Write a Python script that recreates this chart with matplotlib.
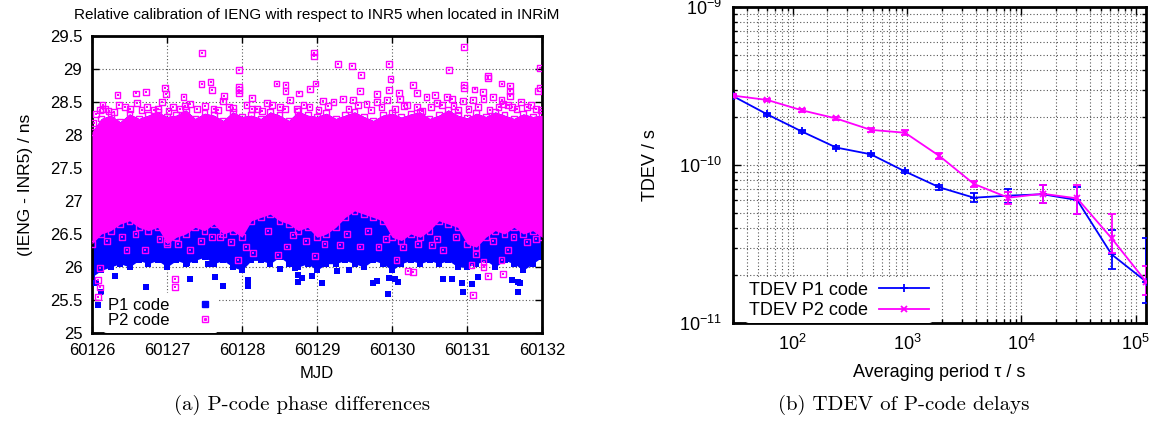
import numpy as np
import matplotlib
matplotlib.use('Agg')
import matplotlib.pyplot as plt
from matplotlib.lines import Line2D
from matplotlib.legend_handler import HandlerTuple
from matplotlib.ticker import LogLocator, FuncFormatter, NullFormatter, MultipleLocator

plt.rcParams['font.family'] = ['Liberation Sans', 'DejaVu Sans']
plt.rcParams['mathtext.fontset'] = 'custom'
plt.rcParams['mathtext.rm'] = 'Liberation Sans'
plt.rcParams['mathtext.it'] = 'Liberation Sans:italic'

# ---- (a) P-code phase differences: dense band edges (read every 0.125 day) ----
band_mjd = [60126.000, 60126.125, 60126.250, 60126.375, 60126.500, 60126.625, 60126.750,
            60126.875, 60127.000, 60127.125, 60127.250, 60127.375, 60127.500, 60127.625,
            60127.750, 60127.875, 60128.000, 60128.125, 60128.250, 60128.375, 60128.500,
            60128.625, 60128.750, 60128.875, 60129.000, 60129.125, 60129.250, 60129.375,
            60129.500, 60129.625, 60129.750, 60129.875, 60130.000, 60130.125, 60130.250,
            60130.375, 60130.500, 60130.625, 60130.750, 60130.875, 60131.000, 60131.125,
            60131.250, 60131.375, 60131.500, 60131.625, 60131.750, 60131.875, 60132.000]
p2_band_top = [28.05, 28.25, 28.30, 28.20, 28.32, 28.25, 28.30, 28.35, 28.28, 28.30,
               28.38, 28.25, 28.33, 28.30, 28.22, 28.35, 28.28, 28.30, 28.25, 28.35,
               28.30, 28.22, 28.36, 28.30, 28.28, 28.33, 28.25, 28.30, 28.35, 28.28,
               28.22, 28.30, 28.33, 28.27, 28.32, 28.35, 28.25, 28.30, 28.38, 28.30,
               28.26, 28.33, 28.28, 28.35, 28.30, 28.25, 28.32, 28.28, 28.30]
p2_band_bottom = [26.35, 26.50, 26.55, 26.65, 26.70, 26.60, 26.55, 26.60, 26.35, 26.45,
                  26.50, 26.60, 26.55, 26.65, 26.50, 26.55, 26.45, 26.70, 26.75, 26.80,
                  26.70, 26.65, 26.55, 26.60, 26.45, 26.50, 26.60, 26.75, 26.85, 26.80,
                  26.75, 26.70, 26.45, 26.40, 26.50, 26.45, 26.55, 26.70, 26.65, 26.60,
                  26.35, 26.30, 26.45, 26.55, 26.50, 26.60, 26.50, 26.55, 26.45]
p1_band_bottom = [25.85, 25.95, 26.00, 26.05, 26.00, 26.10, 26.05, 26.10, 26.00, 26.10,
                  26.05, 26.10, 26.15, 26.05, 26.10, 26.00, 25.95, 26.10, 26.10, 26.05,
                  26.15, 26.05, 26.00, 26.05, 25.95, 26.05, 26.05, 26.10, 26.05, 26.00,
                  26.10, 26.05, 25.95, 26.05, 26.10, 26.05, 26.10, 26.05, 26.10, 26.00,
                  26.00, 26.05, 26.10, 26.00, 26.10, 26.05, 25.95, 26.05, 26.15]

# isolated P1 points below the band
p1_out_mjd = [60126.08, 60126.31, 60126.72, 60127.26, 60127.31, 60127.55, 60127.64,
              60127.74, 60128.08, 60128.08, 60128.51, 60128.75, 60128.71, 60128.74,
              60128.80, 60128.93, 60129.07, 60129.26, 60129.43, 60129.74, 60129.80,
              60129.94, 60129.96, 60130.08, 60130.04, 60130.68, 60130.80, 60130.93,
              60130.95, 60131.07, 60131.15, 60131.60, 60131.68, 60131.71, 60131.68,
              60126.05, 60126.12]
p1_out_val = [25.43, 25.86, 25.69, 26.06, 25.82, 26.04, 25.85, 25.71, 25.80, 25.71,
              25.97, 25.78, 25.98, 25.88, 25.84, 25.86, 25.76, 25.94, 25.95, 25.76,
              25.79, 25.59, 25.84, 25.78, 25.82, 25.82, 25.82, 25.75, 25.62, 25.74,
              25.85, 25.80, 25.78, 25.75, 25.62, 25.75, 25.62]

# isolated P2 points (upper fringe, outliers and squares over the blue)
p2_out_mjd = [60127.47, 60127.96, 60127.96, 60127.96, 60127.96, 60127.46, 60127.58,
              60127.60, 60128.46, 60128.58, 60128.58, 60126.34, 60126.59, 60126.72,
              60126.97, 60126.99, 60127.76, 60128.13, 60127.22, 60126.14, 60126.14,
              60126.02, 60128.96, 60128.96, 60129.28, 60129.47, 60129.96, 60129.59,
              60129.98, 60130.96, 60130.76, 60131.28, 60131.28, 60131.46, 60131.57,
              60131.57, 60131.57, 60130.96, 60130.96, 60128.98, 60128.91, 60130.28,
              60130.33, 60129.57, 60129.80, 60130.09, 60130.57, 60131.10, 60131.21,
              60131.46, 60128.76, 60129.96, 60130.80, 60131.97, 60131.97, 60131.95,
              # fringe 28.3 - 28.6
              60126.11, 60126.22, 60126.36, 60126.51, 60126.60, 60126.73, 60126.82,
              60126.93, 60127.08, 60127.17, 60127.31, 60127.51, 60127.62, 60127.75,
              60127.88, 60128.06, 60128.20, 60128.33, 60128.51, 60128.64, 60128.73,
              60128.82, 60129.08, 60129.22, 60129.35, 60129.48, 60129.66, 60129.80,
              60129.93, 60130.11, 60130.20, 60130.33, 60130.46, 60130.60, 60130.73,
              60130.82, 60130.95, 60131.08, 60131.22, 60131.35, 60131.48, 60131.60,
              60131.72, 60131.85, 60131.92,
              60126.05, 60126.18, 60126.29, 60126.44, 60126.66, 60126.88, 60127.02,
              60127.24, 60127.40, 60127.68, 60127.83, 60128.13, 60128.27, 60128.40,
              60128.57, 60128.90, 60129.02, 60129.15, 60129.42, 60129.55, 60129.72,
              60129.86, 60130.04, 60130.16, 60130.40, 60130.52, 60130.67, 60130.88,
              60131.02, 60131.15, 60131.30, 60131.42, 60131.55, 60131.66, 60131.80,
              60131.98,
              # over the blue / below
              60126.11, 60126.46, 60126.71, 60127.00, 60127.31, 60127.71, 60127.95,
              60128.15, 60128.48, 60128.60, 60128.97, 60129.31, 60129.57, 60129.82,
              60130.06, 60130.53, 60130.68, 60131.06, 60131.22, 60131.22, 60131.46,
              60131.55, 60126.08, 60126.11, 60126.08, 60127.11, 60127.11, 60130.21,
              60130.28, 60131.08, 60131.28, 60131.48,
              60126.20, 60126.40, 60126.58, 60126.90, 60127.15, 60127.45, 60127.60,
              60127.85, 60128.05, 60128.35, 60128.68, 60128.85, 60129.10, 60129.40,
              60129.68, 60129.92, 60130.15, 60130.35, 60130.60, 60130.85, 60131.12,
              60131.35, 60131.62, 60131.80, 60131.92]
p2_out_val = [29.24, 28.99, 28.73, 28.68, 28.63, 28.77, 28.80, 28.68, 28.78, 28.76,
              28.67, 28.60, 28.63, 28.65, 28.71, 28.62, 28.59, 28.56, 28.57, 28.46,
              28.39, 28.18, 29.25, 29.19, 29.08, 29.04, 29.07, 28.91, 28.85, 29.33,
              28.99, 28.90, 28.87, 28.78, 28.75, 28.66, 28.59, 28.76, 28.71, 28.78,
              28.70, 28.76, 28.64, 28.67, 28.62, 28.64, 28.60, 28.69, 28.65, 28.53,
              28.63, 28.68, 28.55, 29.01, 28.71, 28.67,
              28.38, 28.36, 28.45, 28.40, 28.48, 28.42, 28.38, 28.50, 28.42, 28.40,
              28.47, 28.44, 28.40, 28.52, 28.41, 28.45, 28.40, 28.48, 28.42, 28.53,
              28.40, 28.45, 28.52, 28.50, 28.55, 28.53, 28.47, 28.50, 28.53, 28.55,
              28.46, 28.42, 28.57, 28.48, 28.58, 28.44, 28.52, 28.53, 28.55, 28.58,
              28.47, 28.42, 28.50, 28.45, 28.40,
              28.32, 28.40, 28.35, 28.42, 28.38, 28.40, 28.36, 28.44, 28.40, 28.38,
              28.43, 28.40, 28.37, 28.45, 28.40, 28.42, 28.38, 28.44, 28.40, 28.46,
              28.38, 28.42, 28.40, 28.44, 28.37, 28.42, 28.45, 28.38, 28.40, 28.43,
              28.38, 28.42, 28.45, 28.40, 28.43, 28.38,
              25.98, 26.26, 26.26, 26.38, 26.26, 26.46, 26.11, 26.21, 26.18, 26.31,
              26.16, 26.33, 26.31, 26.30, 26.10, 26.33, 26.26, 26.03, 26.08, 26.00,
              26.11, 26.26, 25.54, 25.69, 25.80, 25.82, 25.70, 25.94, 25.93, 25.57,
              25.86, 25.90,
              26.40, 26.45, 26.50, 26.42, 26.35, 26.40, 26.45, 26.38, 26.30, 26.55,
              26.48, 26.40, 26.35, 26.50, 26.55, 26.42, 26.30, 26.35, 26.42, 26.45,
              26.20, 26.40, 26.45, 26.38, 26.42]

# ---- (b) TDEV of P-code delays ----
tau = [30, 60, 120, 240, 480, 960, 1920, 3840, 7680, 15360, 30720, 61440, 122880]
p1_tdev = [2.73e-10, 2.09e-10, 1.63e-10, 1.29e-10, 1.17e-10, 9.1e-11, 7.22e-11,
           6.21e-11, 6.4e-11, 6.53e-11, 6.0e-11, 2.72e-11, 1.83e-11]
p1_low = [2.68e-10, 2.05e-10, 1.60e-10, 1.26e-10, 1.14e-10, 8.85e-11, 6.95e-11,
          5.81e-11, 5.73e-11, 5.73e-11, 4.9e-11, 2.2e-11, 1.34e-11]
p1_high = [2.78e-10, 2.13e-10, 1.66e-10, 1.32e-10, 1.20e-10, 9.35e-11, 7.5e-11,
           6.62e-11, 7.0e-11, 7.5e-11, 7.3e-11, 3.88e-11, 3.45e-11]
p2_tdev = [2.75e-10, 2.58e-10, 2.22e-10, 1.97e-10, 1.67e-10, 1.60e-10, 1.14e-10,
           7.59e-11, 6.21e-11, 6.58e-11, 6.15e-11, 3.44e-11, 1.83e-11]
p2_low = [2.70e-10, 2.53e-10, 2.17e-10, 1.92e-10, 1.62e-10, 1.54e-10, 1.09e-10,
          7.22e-11, 5.68e-11, 5.73e-11, 4.88e-11, 2.76e-11, 1.5e-11]
p2_high = [2.80e-10, 2.63e-10, 2.27e-10, 2.02e-10, 1.72e-10, 1.66e-10, 1.19e-10,
           7.96e-11, 6.7e-11, 7.5e-11, 7.5e-11, 4.88e-11, 2.3e-11]

BLUE = '#0000ff'
MAGENTA = '#ff00ff'

fig = plt.figure(figsize=(11.72, 4.23), dpi=100)

# ---------------- left panel ----------------
ax1 = fig.add_axes([0.0785, 0.2128, 0.384, 0.702])
ax1.fill_between(band_mjd, p1_band_bottom, p2_band_top, color=BLUE, lw=0, zorder=2)
ax1.scatter(band_mjd, p1_band_bottom, marker='s', s=16, color=BLUE, lw=0, zorder=2)
ax1.scatter(p1_out_mjd, p1_out_val, marker='s', s=16, color=BLUE, lw=0, zorder=3)
ax1.fill_between(band_mjd, p2_band_bottom, p2_band_top, color=MAGENTA, lw=0, zorder=4)
# band edges also carry the open squares of the measurements
for edge in (p2_band_top, p2_band_bottom):
    ax1.scatter(band_mjd, edge, marker='s', s=18, facecolor='none',
                edgecolor=MAGENTA, lw=1.0, zorder=5)
ax1.scatter(p2_out_mjd, p2_out_val, marker='s', s=18, facecolor='none',
            edgecolor=MAGENTA, lw=1.0, zorder=5)
ax1.scatter(p2_out_mjd, p2_out_val, marker='s', s=1.5, color=MAGENTA, lw=0, zorder=5)

ax1.set_xlim(60126, 60132)
ax1.set_ylim(25, 29.5)
ax1.xaxis.set_major_locator(MultipleLocator(1))
ax1.yaxis.set_major_locator(MultipleLocator(0.5))
ax1.ticklabel_format(useOffset=False, style='plain', axis='x')
ax1.yaxis.set_major_formatter(FuncFormatter(lambda v, p: '%g' % v))
ax1.grid(True, color='#555555', ls=(0, (1, 2)), lw=0.8, zorder=1)
ax1.set_axisbelow(True)
ax1.tick_params(direction='in', top=True, right=True, labelsize=12, length=5, width=1,
                pad=7)
for sp in ax1.spines.values():
    sp.set_linewidth(2)
ax1.set_xlabel('MJD', fontsize=12, labelpad=6)
ax1.set_ylabel('(IENG - INR5) / ns', fontsize=12.5, labelpad=12)
ax1.set_title('Relative calibration of IENG with respect to INR5 when located in INRiM',
              fontsize=11, pad=12)

h1 = Line2D([], [], ls='none', marker='s', ms=3.8, color=BLUE, mec=BLUE)
h2a = Line2D([], [], ls='none', marker='s', ms=4.5, mfc='none', mec=MAGENTA, mew=1)
h2b = Line2D([], [], ls='none', marker='s', ms=1.2, color=MAGENTA)
leg1 = ax1.legend([h1, (h2a, h2b)], ['P1 code', 'P2 code'], loc='lower left',
                  markerfirst=False, frameon=True, fontsize=12, handlelength=1.0,
                  handletextpad=1.6, labelspacing=0.0, borderaxespad=0.0,
                  borderpad=0.3, bbox_to_anchor=(0.025, 0.0),
                  handler_map={tuple: HandlerTuple(ndivide=1)})
leg1.get_frame().set_edgecolor('none')
leg1.get_frame().set_alpha(1)
leg1.set_zorder(10)

# ---------------- right panel ----------------
ax2 = fig.add_axes([0.6254, 0.2364, 0.3524, 0.747])
p1_err = [np.array(p1_tdev) - np.array(p1_low), np.array(p1_high) - np.array(p1_tdev)]
p2_err = [np.array(p2_tdev) - np.array(p2_low), np.array(p2_high) - np.array(p2_tdev)]
ax2.errorbar(tau, p1_tdev, yerr=p1_err, color=BLUE, lw=1.3, marker='+', ms=6,
             mew=1.3, capsize=3, elinewidth=1.3, capthick=1.3, zorder=3)
ax2.errorbar(tau, p2_tdev, yerr=p2_err, color=MAGENTA, lw=1.3, marker='x', ms=5,
             mew=1.3, capsize=3, elinewidth=1.3, capthick=1.3, zorder=4)
ax2.set_xscale('log')
ax2.set_yscale('log')
ax2.set_xlim(30, 122880)
ax2.set_ylim(1e-11, 1e-9)
ax2.xaxis.set_major_locator(LogLocator(base=10, numticks=10))
ax2.xaxis.set_minor_locator(LogLocator(base=10, subs=np.arange(2, 10), numticks=10))
ax2.yaxis.set_major_locator(LogLocator(base=10, numticks=10))
ax2.yaxis.set_minor_locator(LogLocator(base=10, subs=np.arange(2, 10), numticks=10))
ax2.xaxis.set_minor_formatter(NullFormatter())
ax2.yaxis.set_minor_formatter(NullFormatter())
ax2.xaxis.set_major_formatter(FuncFormatter(lambda v, p: r'$10^{%d}$' % round(np.log10(v))))
ax2.yaxis.set_major_formatter(FuncFormatter(lambda v, p: r'$10^{%d}$' % round(np.log10(v))))
ax2.grid(True, which='both', color='#555555', ls=(0, (1, 2)), lw=0.8, zorder=1)
ax2.set_axisbelow(True)
ax2.tick_params(which='both', direction='in', top=True, right=True, labelsize=13, width=1)
ax2.tick_params(which='major', length=6, pad=8)
ax2.tick_params(which='minor', length=3)
for sp in ax2.spines.values():
    sp.set_linewidth(2)
ax2.set_xlabel('Averaging period τ / s', fontsize=13, labelpad=7)
ax2.set_ylabel('TDEV / s', fontsize=13, labelpad=14)

g1 = Line2D([], [], color=BLUE, lw=1.3, marker='+', ms=6, mew=1.3)
g2 = Line2D([], [], color=MAGENTA, lw=1.3, marker='x', ms=5, mew=1.3)
leg2 = ax2.legend([g1, g2], ['TDEV P1 code', 'TDEV P2 code'], loc='lower left',
                  markerfirst=False, frameon=True, fontsize=13, handlelength=2.8,
                  handletextpad=0.6, labelspacing=0.2, borderaxespad=0.0,
                  borderpad=0.2, bbox_to_anchor=(0.03, 0.0))
leg2.get_frame().set_edgecolor('none')
leg2.get_frame().set_alpha(1)
leg2.set_zorder(10)

# captions
fig.text(0.258, 0.042, '(a) P-code phase differences', ha='center', va='center',
         fontsize=15, family='cmr10')
fig.text(0.771, 0.042, '(b) TDEV of P-code delays', ha='center', va='center',
         fontsize=15, family='cmr10')

fig.savefig('out.png', dpi=100)
